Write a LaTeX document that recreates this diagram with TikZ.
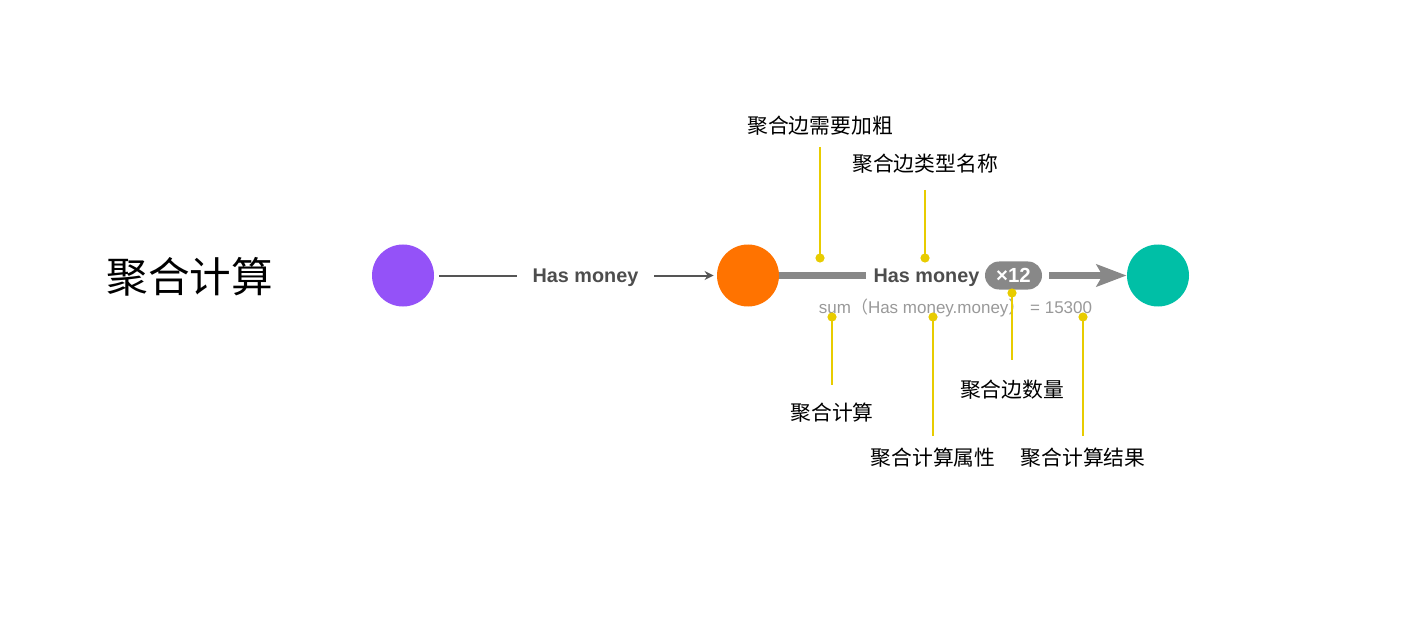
\documentclass[tikz,border=0pt]{standalone}
\usepackage{fontspec}
\setmainfont{Liberation Sans}
\newfontfamily\cjk{Noto Sans CJK SC}
\usetikzlibrary{arrows.meta}
\definecolor{purp}{HTML}{9452F8}
\definecolor{orng}{HTML}{FF7300}
\definecolor{teal2}{HTML}{00BFA6}
\definecolor{edgegray}{HTML}{888888}
\definecolor{darktext}{HTML}{4D4D4D}
\definecolor{thinline}{HTML}{555555}
\definecolor{sumgray}{HTML}{999999}
\definecolor{ylw}{HTML}{E8CC00}
\begin{document}
\begin{tikzpicture}[x=0.5pt,y=-0.5pt,
  ent/.style={circle, minimum size=31pt, inner sep=0pt, fill=#1},
  elab/.style={font=\bfseries\fontsize{9.9}{11}\selectfont, text=darktext, inner xsep=0pt, inner ysep=0pt, text height=7pt, text depth=0pt},
  note/.style={font=\cjk\fontsize{10.4}{12}\selectfont, inner sep=0pt},
  ydot/.style={circle, fill=ylw, minimum size=4.6pt, inner sep=0pt},
  yline/.style={draw=ylw, line width=1pt},
  thinedge/.style={draw=thinline, line width=1pt},
  thickedge/.style={draw=edgegray, line width=3.5pt}]
\useasboundingbox (0,0) rectangle (1410,626);

% title
\node[font=\cjk\fontsize{20.8}{24}\selectfont, inner sep=0pt] (title) at (190,277) {聚合计算};

% entities
\node[ent=purp] (p) at (403,275.5) {};
\node[ent=orng] (o) at (748,275.5) {};
\node[ent=teal2] (t) at (1158,275.5) {};

% simple edge
\node[elab, minimum width=68.5pt] (l1) at (585.5,275.5) {Has money};
\draw[thinedge, shorten <=2.5pt] (p) -- (l1);
\draw[thinedge, -{Stealth[length=4.5pt,width=4.5pt]}, shorten >=1.5pt] (l1) -- (o);

% aggregated edge
\node[elab, minimum width=60pt] (l2) at (926.5,275.5) {Has money};
\node[fill=edgegray, rounded corners=7pt, minimum width=28.5pt, minimum height=14pt, inner sep=0pt,
      text=white, font=\bfseries\fontsize{10.2}{11}\selectfont, text height=7pt, text depth=0pt] (b) at (1013.5,275.5) {×12};
\draw[thickedge] (o) -- (l2);
\draw[thickedge, -{Stealth[length=15pt,width=11pt,inset=3pt]}, shorten <=3.5pt] (b) -- (t);

% aggregation formula
\node[text=sumgray, font=\fontsize{8.5}{10}\selectfont, inner sep=0pt] (sum) at (955.5,308)
  {sum{\cjk（}Has money.money{\cjk）} = 15300};

% annotations
\node[note] (n1) at (820,126) {聚合边需要加粗};
\node[note] (n2) at (925,164) {聚合边类型名称};
\node[note] (n3) at (832,413) {聚合计算};
\node[note] (n4) at (933,458) {聚合计算属性};
\node[note] (n5) at (1012,390) {聚合边数量};
\node[note] (n6) at (1083,458) {聚合计算结果};

\coordinate (e1) at (820,147);
\coordinate (e2) at (925,190);
\coordinate (e3) at (832,385);
\coordinate (e4) at (933,436);
\coordinate (e5) at (1012,360);
\coordinate (e6) at (1083,436);

\node[ydot] (d1) at (820,258) {};
\node[ydot] (d2) at (925,258) {};
\node[ydot] (d3) at (832,317) {};
\node[ydot] (d4) at (933,317) {};
\node[ydot] (d5) at (1012,293) {};
\node[ydot] (d6) at (1083,317) {};

\draw[yline] (e1) -- (d1.center);
\draw[yline] (e2) -- (d2.center);
\draw[yline] (d3.center) -- (e3);
\draw[yline] (d4.center) -- (e4);
\draw[yline] (d5.center) -- (e5);
\draw[yline] (d6.center) -- (e6);
\end{tikzpicture}
\end{document}
